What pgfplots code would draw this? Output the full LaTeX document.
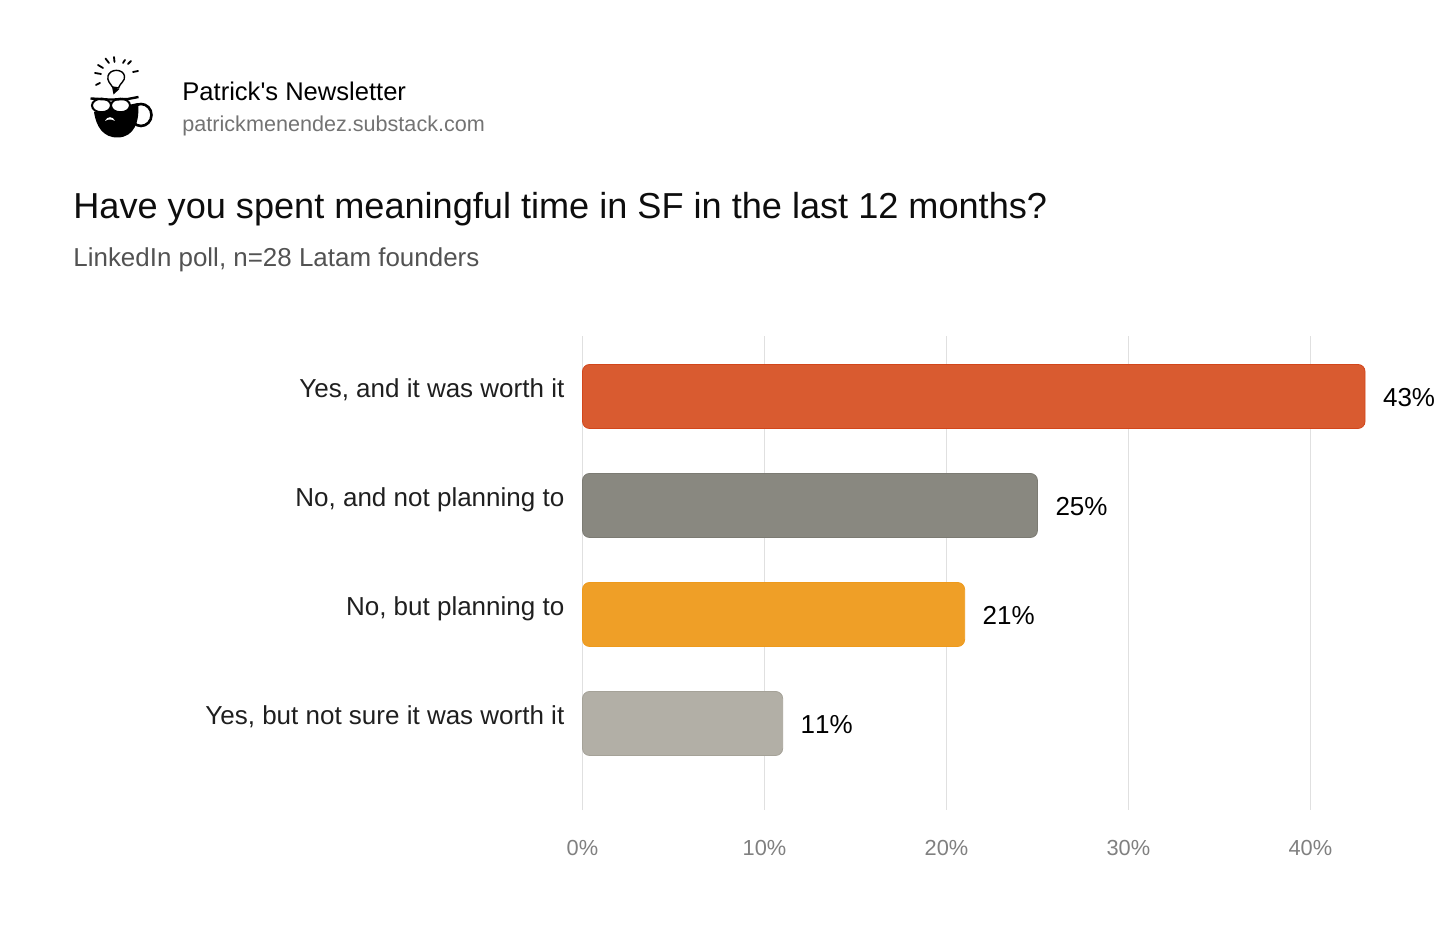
\documentclass[border=0pt]{standalone}
\usepackage{fontspec}
\setmainfont{Liberation Sans}
\usepackage{pgfplots}
\pgfplotsset{compat=1.18}

\definecolor{barred}{HTML}{D95B30}
\definecolor{barredline}{HTML}{D2461B}
\definecolor{bargrey}{HTML}{898880}
\definecolor{bargreyline}{HTML}{7C7B73}
\definecolor{baramber}{HTML}{EF9F27}
\definecolor{baramberline}{HTML}{EE9A1C}
\definecolor{barlight}{HTML}{B2AFA6}
\definecolor{barlightline}{HTML}{A5A298}
\definecolor{gridgrey}{HTML}{E0E0E0}

\pgfplotsset{onebar/.style={
    fill=#1, draw=#1line, line width=0.4pt, rounded corners=3.5pt, bar shift=0pt}}

\begin{document}
\begin{tikzpicture}
  \useasboundingbox (0,0) rectangle (728pt,473pt);

  % header and logo, positions in reference pixels
  \begin{scope}[x=0.5pt,y=-0.5pt,shift={(0pt,473pt)}]
    \node[anchor=base west,inner sep=0pt,font=\fontsize{12.78}{15}\selectfont,text=black] at (182,100.5) {Patrick\textquotesingle s Newsletter};
    \node[anchor=base west,inner sep=0pt,font=\fontsize{10.8}{13}\selectfont,text=black!55] at (182,132) {patrickmenendez.substack.com};
    \node[anchor=base west,inner sep=0pt,font=\fontsize{18.06}{22}\selectfont,text=black!95] at (73,219) {Have you spent meaningful time in SF in the last 12 months?};
    \node[anchor=base west,inner sep=0pt,font=\fontsize{12.97}{15}\selectfont,text=black!68] at (73,266.5) {LinkedIn poll, n=28 Latam founders};

    % rays and bulb
    \draw[line width=0.9pt,line cap=round]
      (95,73)--(101,74) (98,65)--(103,68) (105.5,58.5)--(109,63) (114,57)--(114.5,62)
      (123,63)--(125,60) (128,64)--(131,61) (133,72)--(138,71) (96,85)--(100,83);
    \draw[line width=0.7pt,fill=white] (112.5,87) .. controls (110,83) and (107,81) .. (108,76)
      .. controls (110,68.5) and (123,68.5) .. (124.5,76) .. controls (125.5,81) and (120,83) .. (118.5,88) -- cycle;
    \fill (112,87)--(119.5,89)--(113.5,94.5)--cycle;
    % cup and beard
    \draw[line width=1.3pt] (141,115) circle[x radius=10.5,y radius=11];
    \fill (94,112) -- (138,103) .. controls (140,122) and (134,137) .. (118,137.5)
      .. controls (103,138) and (96,126) .. (94,112) -- cycle;
    \fill[white] (105,121) .. controls (107,116) and (113,116) .. (115,121) .. controls (112,119) and (108,119) .. (105,121) -- cycle;
    % glasses
    \draw[line width=1pt,fill=white] (101.5,105.5) circle[x radius=9.5,y radius=6.8];
    \draw[line width=1pt,fill=white] (120.5,105.5) circle[x radius=9.5,y radius=6.8];
    \draw[line width=1.2pt] (90.5,98.5)--(108,99.5)--(114,99.5)--(128,99)--(138.5,97);
  \end{scope}

  \begin{axis}[
      at={(291.25pt,68pt)}, anchor=south west,
      scale only axis,
      width=436.75pt, height=237pt,
      xmin=0, xmax=48,
      ymin=-0.7936, ymax=3.555,
      xbar, bar width=32pt,
      clip=false,
      axis line style={draw=none},
      tick style={draw=none},
      xmajorgrids,
      grid style={gridgrey, line width=0.9pt},
      xtick={0,10,20,30,40},
      xticklabel={\pgfmathprintnumber{\tick}\%},
      xticklabel style={font=\fontsize{10.9}{13}\selectfont, text=black!50, yshift=-11.5pt},
      ytick={0,1,2,3},
      yticklabels={{Yes, but not sure it was worth it},{No, but planning to},{No, and not planning to},{Yes, and it was worth it}},
      yticklabel style={font=\fontsize{13}{15}\selectfont, text=black!88, text height=9.5pt, text depth=2.8pt, yshift=2.9pt, xshift=-1.3pt},
      /pgf/number format/assume math mode=true,
      nodes near coords={\pgfmathprintnumber{\pgfplotspointmeta}\%},
      nodes near coords style={font=\fontsize{13}{15}\selectfont\addfontfeature{Kerning=Off}, text=black, anchor=west, xshift=5.5pt, yshift=-0.5pt},
      point meta=x,
    ]
    \addplot[onebar=barlight] coordinates {(11,0)};
    \addplot[onebar=baramber] coordinates {(21,1)};
    \addplot[onebar=bargrey] coordinates {(25,2)};
    \addplot[onebar=barred] coordinates {(43,3)};
  \end{axis}
\end{tikzpicture}
\end{document}
